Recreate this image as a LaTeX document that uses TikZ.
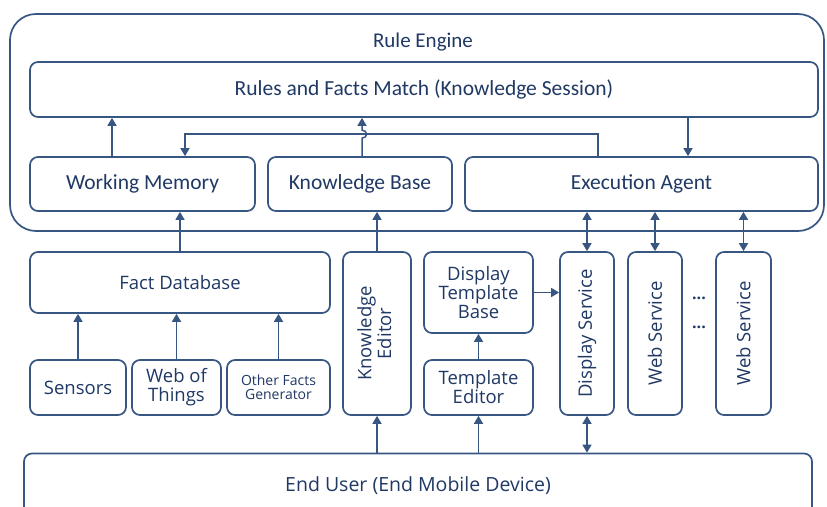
\documentclass[tikz,border=0pt]{standalone}
\usepackage{fontspec}
\setmainfont{Carlito}
\newfontfamily\lowfont{Open Sans}
\usepackage{tikz}
\usetikzlibrary{arrows.meta}
\definecolor{lineblue}{RGB}{55,86,130}
\definecolor{textblue}{RGB}{31,56,100}

\begin{document}
\begin{tikzpicture}[x=1pt,y=-1pt,semithick]
        \tikzstyle{blk}=[
            draw=lineblue,
            line width=1.7pt,
            rounded corners=8pt,
            text=textblue,
            align=center,
            inner sep=0pt,
            font=\fontsize{21.5}{21.5}\selectfont
        ]
        \tikzstyle{lowblk}=[
            blk,
            font=\lowfont\fontsize{18.5}{19}\selectfont
        ]
        \tikzstyle{link}=[-{Triangle[length=8pt,width=9pt]}, draw=lineblue, line width=1.5pt]
        \tikzstyle{dlink}=[{Triangle[length=8pt,width=9pt]}-{Triangle[length=8pt,width=9pt]}, draw=lineblue, line width=1.5pt]

        \useasboundingbox (0,0) rectangle (827,506);

        % rule engine
        \node[blk, rounded corners=26pt, minimum width=814, minimum height=217] (engine) at (417,122.5) {};
        \node[text=textblue, font=\fontsize{21}{21}\selectfont] (title) at (423,42) {Rule Engine};
        \node[blk, minimum width=788, minimum height=55] (rfm) at (424,89.5) {Rules and Facts Match (Knowledge Session)};
        \node[blk, minimum width=225, minimum height=54] (wm) at (142.5,184) {Working Memory};
        \node[blk, minimum width=184, minimum height=54] (kb) at (360,184) {Knowledge Base};
        \node[blk, minimum width=353, minimum height=54] (ea) at (641.5,184) {Execution Agent};

        % facts
        \node[lowblk, minimum width=300, minimum height=61] (fdb) at (180,282.5) {Fact Database};
        \node[lowblk, minimum width=96, minimum height=55] (sens) at (78,387.5) {Sensors};
        \node[lowblk, minimum width=89, minimum height=55] (wot) at (176.5,387.5) {Web of\\Things};
        \node[lowblk, minimum width=103, minimum height=55, font=\lowfont\fontsize{14}{14}\selectfont] (ofg) at (278.5,387.5) {Other Facts\\Generator};

        % editors and services
        \node[lowblk, minimum width=68, minimum height=163] (ked) at (377,333.5)
            {\rotatebox{90}{\begin{tabular}{@{}c@{}}Knowledge\\Editor\end{tabular}}};
        \node[lowblk, minimum width=109, minimum height=81] (dtb) at (478.5,292.5) {Display\\Template\\Base};
        \node[lowblk, minimum width=109, minimum height=55] (ted) at (478.5,387.5) {Template\\Editor};
        \node[lowblk, minimum width=54, minimum height=163] (dsv) at (587,333.5) {\rotatebox{90}{Display Service}};
        \node[lowblk, minimum width=54, minimum height=163] (wsa) at (655,333.5) {\rotatebox{90}{Web Service}};
        \node[lowblk, minimum width=55, minimum height=163] (wsb) at (743.5,333.5) {\rotatebox{90}{Web Service}};
        \node[text=textblue, font=\lowfont\bfseries\fontsize{16}{16}\selectfont] (dotsa) at (699,298) {...};
        \node[text=textblue, font=\lowfont\bfseries\fontsize{16}{16}\selectfont] (dotsb) at (699,327) {...};

        % end user
        \node[lowblk, font=\lowfont\fontsize{19.5}{20}\selectfont, minimum width=788, minimum height=65] (user) at (418,486) {End User (End Mobile Device)};

        % inside the engine
        \draw[link] ([xshift=-30.5]wm.north) -- ([xshift=-30.5]wm.north |- rfm.south);
        \draw[link] ([xshift=2]kb.north) -- ++(0,-18) .. controls +(6,0) and +(6,0) .. ++(0,-8) -- ([xshift=2]kb.north |- rfm.south);
        \draw[link] ([xshift=-43.5]ea.north) -- ++(0,-22) -| ([xshift=42.5]wm.north);
        \draw[link] ([xshift=46.5]ea.north |- rfm.south) -- ([xshift=46.5]ea.north);

        % into the engine
        \draw[link] (fdb.north) -- (fdb.north |- wm.south);
        \draw[link] (ked.north) -- (ked.north |- kb.south);
        \draw[dlink] (dsv.north) -- (dsv.north |- ea.south);
        \draw[dlink] (wsa.north) -- (wsa.north |- ea.south);
        \draw[dlink] (wsb.north) -- (wsb.north |- ea.south);

        % facts and templates
        \draw[link] (sens.north) -- (sens.north |- fdb.south);
        \draw[link] (wot.north) -- (wot.north |- fdb.south);
        \draw[link] (ofg.north) -- (ofg.north |- fdb.south);
        \draw[link] (ted.north) -- (dtb.south);
        \draw[link] (dtb.east) -- (dtb.east -| dsv.west);

        % from the user
        \draw[link] (user.north -| ked.south) -- (ked.south);
        \draw[link] (user.north -| ted.south) -- (ted.south);
        \draw[dlink] (user.north -| dsv.south) -- (dsv.south);

    \end{tikzpicture}
\end{document}
